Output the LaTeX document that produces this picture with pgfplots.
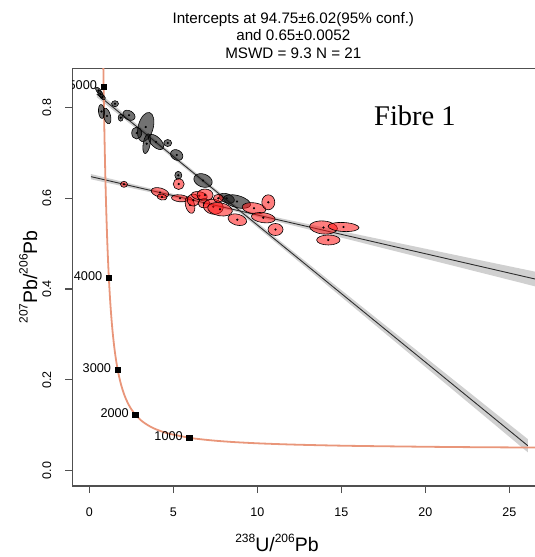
\documentclass[border=0pt]{standalone}
\usepackage{pgfplots}
\pgfplotsset{compat=1.18}
\usepackage{fontspec}
\setmainfont{Liberation Sans}
\newfontfamily\seriffont{Liberation Serif}
\usetikzlibrary{calc}
\definecolor{dsalmon}{RGB}{233,150,122}
\definecolor{bandgray}{RGB}{208,208,208}
\definecolor{axgray}{RGB}{80,80,80}
\definecolor{linegray}{RGB}{45,45,45}
\definecolor{ellred}{RGB}{255,20,20}
\definecolor{ellgrey}{RGB}{20,20,20}
\newcommand{\sups}[1]{\raisebox{9.5bp}{\fontsize{12bp}{12bp}\selectfont #1}}
\pgfplotsset{
  ellipses/.style 2 args={scatter, only marks, mark=*, mark size=0.9bp,
    scatter/use mapped color={draw=black, fill=black},
    visualization depends on={value \thisrow{ux} \as \eux},
    visualization depends on={value \thisrow{uy} \as \euy},
    visualization depends on={value \thisrow{vx} \as \evx},
    visualization depends on={value \thisrow{vy} \as \evy},
    scatter/@pre marker code/.append code={%
      \begin{pgfscope}%
      \pgfsetlinewidth{0.6bp}\pgfsetstrokecolor{black}\pgfsetfillcolor{#1}\pgfsetfillopacity{#2}%
      \pgfpathellipse{\pgfpointorigin}{\pgfpoint{\eux bp}{\euy bp}}{\pgfpoint{\evx bp}{\evy bp}}%
      \pgfusepath{fill,stroke}%
      \end{pgfscope}},
  },
}
\begin{document}
\begin{tikzpicture}
\begin{axis}[
  scale only axis,
  width=465.6bp, height=417.7bp,
  xmin=-1.012, xmax=26.7, ymin=-0.0337, ymax=0.8859,
  axis line style={axgray, line width=1.1bp},
  every tick/.style={axgray, line width=1.1bp},
  tick align=outside,
  major tick length=7bp,
  xtick pos=bottom, ytick pos=left,
  xtick={0,5,10,15,20,25},
  ytick={0,0.2,0.4,0.6,0.8},
  /pgf/number format/assume math mode=true,
  yticklabel style={rotate=90, anchor=south, font=\fontsize{12.5bp}{15bp}\selectfont, /pgf/number format/fixed, /pgf/number format/fixed zerofill, /pgf/number format/precision=1},
  xticklabel style={font=\fontsize{12.5bp}{15bp}\selectfont},
  xticklabel shift=11.5bp,
  yticklabel shift=10.5bp,
  scaled y ticks=false,
]
\coordinate (BL) at (rel axis cs:0,0);
% confidence band of the red (shallow) regression
\addplot[fill=bandgray, draw=none] coordinates {
 (0.1,0.65315) (3,0.62713) (6,0.60065) (9,0.57518) (12,0.55090) (15,0.52753) (18,0.50425) (21,0.48098) (24,0.45770) (27,0.43463)
 (27,0.40143) (24,0.42950) (21,0.45738) (18,0.48525) (15,0.51313) (12,0.54090) (9,0.56778) (6,0.59345) (3,0.61813) (0.1,0.64155)
} -- cycle;
% confidence band of the grey (steep) regression
\addplot[fill=bandgray, draw=none] coordinates {
 (0.45,0.83615) (4,0.72701) (8,0.60579) (12,0.48657) (16,0.36785) (20,0.24963) (24,0.13141) (26.1,0.06951)
 (26.1,0.04051) (24,0.10541) (20,0.22863) (16,0.35185) (12,0.47457) (8,0.59679) (4,0.71701) (0.45,0.82215)
} -- cycle;
% regression lines
\addplot[linegray, line width=0.9bp] coordinates {(0.1,0.64735) (27,0.41803)};
\addplot[linegray, line width=0.9bp] coordinates {(0.45,0.82915) (26.1,0.05501)};
% grey ellipses: centre x y, half axes as vectors u, v (bp)
\addplot[ellipses={ellgrey}{0.6}] table {
x y ux uy vx vy
0.548 0.8370 2.571 -3.064 1.532 1.286
0.667 0.8293 2.000 -3.464 1.905 1.100
0.786 0.8227 2.475 -2.475 1.414 1.414
0.726 0.7908 -0.610 6.973 -2.989 -0.262
1.054 0.7809 -2.070 7.727 -3.381 -0.906
1.530 0.8079 3.5 0 0 3
1.869 0.7771 2.5 0 0 3.5
2.363 0.7824 5.629 -3.250 2.250 3.897
3.357 0.7566 3.882 14.489 -7.244 1.941
2.821 0.7434 5 0 0 6
3.417 0.7199 3.447 -0.608 1.736 9.848
3.970 0.7236 6.717 -6.717 3.536 3.536
4.667 0.7214 4 0 0 3.5
5.202 0.6950 5.629 -3.250 2.500 4.330
5.298 0.6503 3.5 0 0 4
6.768 0.6389 8.927 -3.249 2.223 6.108
8.179 0.5997 7.518 -2.736 1.539 4.229
8.792 0.5926 13.523 -3.623 1.553 5.795
};
% red ellipses
\addplot[ellipses={ellred}{0.55}] table {
x y ux uy vx vy
2.065 0.6305 3.5 0 0 3
5.321 0.6311 5.5 0 0 5.5
4.208 0.6124 8.693 -2.329 1.165 4.347
4.327 0.6025 4.924 -0.868 0.521 2.954
5.399 0.5997 8.468 -0.741 0.305 3.487
5.994 0.5849 4.347 1.165 -2.200 8.210
6.190 0.5959 6 0 0 6
6.548 0.6054 7.878 -1.389 0.694 3.939
6.887 0.6069 8 0 0 6
6.827 0.5887 6 0 0 4.5
7.381 0.5812 9.848 -1.736 1.302 7.386
7.780 0.5755 12.310 -2.170 1.128 6.401
7.679 0.5997 5 0 0 4
8.810 0.5526 9.176 -2.459 1.423 5.312
9.804 0.5777 11.884 -1.670 0.766 5.447
10.655 0.5909 6.5 0 0 7.5
10.357 0.5570 11.884 -1.670 0.696 4.952
11.083 0.5310 7.5 0 0 6
13.940 0.5354 13.947 -1.221 0.567 6.475
15.131 0.5365 15.478 -0.811 0.235 4.494
14.226 0.5079 11.7 0 0 5
};
% concordia
\addplot[dsalmon, line width=1.8bp, smooth] coordinates {
(27.53,0.05076) (25.29,0.05120) (20.99,0.05233) (15.621,0.05470) (12.399,0.05722)
(10.252,0.05990) (8.718,0.06275) (7.568,0.06580) (6.674,0.06904) (5.9593,0.07250)
(4.6732,0.08218) (3.8170,0.09360) (3.2063,0.10706) (2.7490,0.12299) (2.3941,0.14186)
(2.1108,0.16426) (1.8796,0.19091) (1.6874,0.22266) (1.5253,0.26055) (1.3869,0.30583)
(1.2672,0.36004) (1.1630,0.42500) (1.0714,0.50299) (0.99024,0.59671) (0.91799,0.70946)
(0.85328,0.84527) (0.79502,1.00902)
};
\addplot[only marks, mark=square*, mark size=2.8bp, black] coordinates {
(5.9593,0.07250) (2.7490,0.12299) (1.6874,0.22266) (1.1630,0.42500) (0.85328,0.84527)
};
\begin{scope}[every node/.style={anchor=east, inner sep=0pt, xshift=-6.5bp, yshift=1.5bp, font=\fontsize{12.7bp}{15bp}\selectfont}]
\node at (axis cs:5.9593,0.07250) {1000};
\node at (axis cs:2.7490,0.12299) {2000};
\node at (axis cs:1.6874,0.22266) {3000};
\node at (axis cs:1.1630,0.42500) {4000};
\node at (axis cs:0.85328,0.84527) {5000};
\end{scope}
\end{axis}
% titles and labels
\node[align=center, font=\fontsize{15.2bp}{17.5bp}\selectfont] at ($(BL)+(221bp,450.5bp)$) {Intercepts at 94.75±6.02(95\% conf.)\\and 0.65±0.0052\\MSWD = 9.3 N = 21};
\node[anchor=base west, inner sep=0pt, font=\fontsize{28.5bp}{30bp}\seriffont] at ($(BL)+(301.7bp,360bp)$) {Fibre 1};
\node[anchor=base, inner sep=0pt, font=\fontsize{19.5bp}{22bp}\selectfont] at ($(BL)+(204.7bp,-65.7bp)$) {\sups{238}U/\sups{206}Pb};
\node[anchor=base, rotate=90, inner sep=0pt, font=\fontsize{19.5bp}{22bp}\selectfont] at ($(BL)+(-35.3bp,209bp)$) {\sups{207}Pb/\sups{206}Pb};
\pgfresetboundingbox
\path ($(BL)+(-72.3bp,-71bp)$) rectangle ($(BL)+(462.7bp,486bp)$);
\end{tikzpicture}
\end{document}
